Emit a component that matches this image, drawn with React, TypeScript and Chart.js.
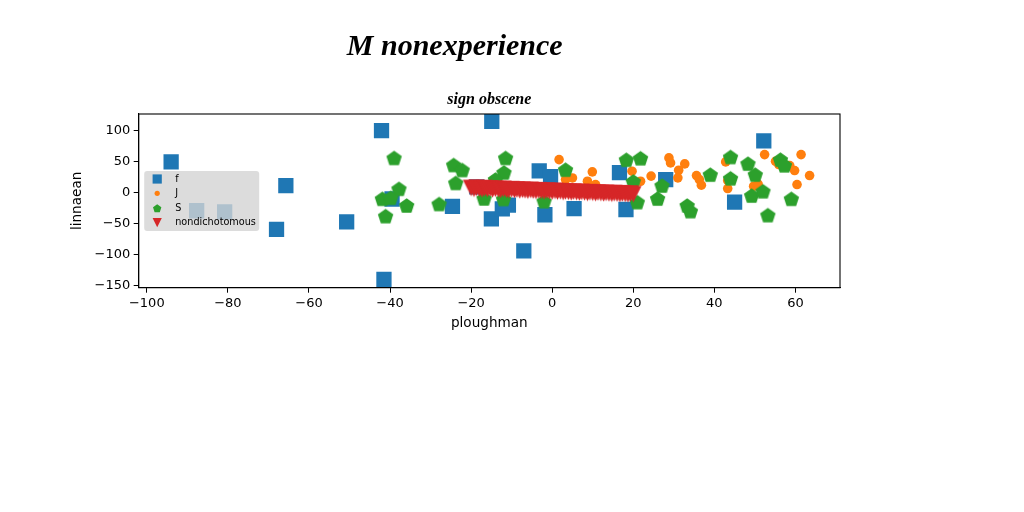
import { useEffect, useRef } from "react";
import { Chart, registerables } from "chart.js";

Chart.register(...registerables);

const TITLE = "M nonexperience";
const SUBTITLE = "sign obscene";
const X_LABEL = "ploughman";
const Y_LABEL = "linnaean";
const X_TICKS = [-100, -80, -60, -40, -20, 0, 20, 40, 60];
const Y_TICKS = [-150, -100, -50, 0, 50, 100];
const X_MIN = -102;
const X_MAX = 71;
const Y_MIN = -153.5;
const Y_MAX = 127.5;
const SERIES_NAMES = ["f", "J", "S", "nondichotomous"];

const F_X = [-94, -87.7, -80.8, -65.7, -68, -50.7, -42.1, -41.5, -39.5, -24.6, -14.9, -18.6, -15, -12.3, -10.8, -7, -3.2, -0.4, -1.8, 5.4, 16.6, 18.2, 28, 45, 52.2];
const F_Y = [50, -29, -31, 11.8, -59, -47, 100.5, -140, -10, -22, 115.6, 9.7, -42, -26, -20, -94, 35.5, 26, -35.5, -25.5, 32.5, -27, 21.5, -15, 84];

const J_X = [1.7, 3.3, 5, 8.7, 9.9, 10.7, 19.7, 21.8, 24.4, 28.8, 29.2, 32.7, 31.2, 31, 35.6, 36.3, 36.8, 42.8, 43.3, 43.3, 49.7, 50.8, 52.4, 55.1, 55.9, 56.7, 58.6, 59.8, 60.4, 61.4, 63.5];
const J_Y = [53.7, 21.5, 24, 18.7, 33.9, 13.4, 35, 18.7, 27, 56.5, 48.4, 46.8, 36.5, 24.2, 27.9, 21.5, 12.3, 50, 19.8, 6.9, 10.6, 14, 61.8, 51, 45.7, 48.4, 44, 36, 13.4, 61.8, 27.9];

const S_X = [-39, -37.8, -41.9, -39.8, -35.9, -41.1, -27.9, -24.3, -22.2, -23.8, -11.5, -11.9, -14, -16.8, -12, -2, 3.3, 18.3, 21.8, 20, 21, 27.1, 26, 33.3, 34.1, 39, 44, 44, 48.3, 50.1, 49.2, 52, 53.2, 56.3, 57.3, 59];
const S_Y = [56.5, 6.5, -9.7, -8, -20.5, -37.7, -18, 45, 37, 16, 56.5, 33, 21.5, -9, -10, -13.5, 37.5, 53.5, 56, 18.5, -15, 11.8, -9.2, -20.5, -29.6, 29.5, 58, 23.5, 47.3, 29.5, -4.4, 2.6, -36, 53.7, 44.5, -9.7];

const N_X = [-20.0, -19.3, -18.7, -18.0, -17.3, -16.7, -16.0, -15.3, -14.7, -14.0, -13.3, -12.7, -12.0, -11.3, -10.7, -10.0, -9.3, -8.7, -8.0, -7.3, -6.7, -6.0, -5.3, -4.7, -4.0, -3.3, -2.7, -2.0, -1.3, -0.7, 0.0, 0.7, 1.3, 2.0, 2.7, 3.3, 4.0, 4.7, 5.3, 6.0, 6.7, 7.3, 8.0, 8.7, 9.3, 10.0, 10.7, 11.3, 12.0, 12.7, 13.3, 14.0, 14.7, 15.3, 16.0, 16.7, 17.3, 18.0, 18.7, 19.3, 20.0];
const N_Y = [7.8, 6.4, 8.1, 6.9, 5.8, 7.6, 6.2, 7.0, 5.4, 6.6, 5.9, 4.8, 6.3, 5.1, 4.4, 5.8, 4.6, 5.3, 3.9, 5.0, 4.2, 3.4, 4.7, 3.6, 2.9, 4.1, 3.3, 2.4, 3.6, 2.8, 2.0, 3.1, 1.9, 2.6, 1.3, 2.3, 1.6, 0.8, 2.0, 1.1, 0.4, 1.5, 0.6, -0.2, 1.0, 0.1, -0.6, 0.5, -0.4, -1.1, 0.0, -0.9, -1.6, -0.5, -1.3, -2.0, -0.9, -1.8, -2.4, -1.4, -2.2];

const BLUE = "#1f77b4";
const ORANGE = "#ff7f0e";
const GREEN = "#2ca02c";
const RED = "#d62728";

function zip(xs: number[], ys: number[]) {
  return xs.map((x, i) => ({ x, y: ys[i] }));
}

function pentagonPath(ctx: CanvasRenderingContext2D, cx: number, cy: number, r: number) {
  ctx.beginPath();
  for (let k = 0; k < 5; k++) {
    const a = -Math.PI / 2 + (k * 2 * Math.PI) / 5;
    const px = cx + r * Math.cos(a);
    const py = cy + r * Math.sin(a);
    if (k === 0) ctx.moveTo(px, py);
    else ctx.lineTo(px, py);
  }
  ctx.closePath();
}

function downTrianglePath(ctx: CanvasRenderingContext2D, cx: number, cy: number, s: number) {
  ctx.beginPath();
  ctx.moveTo(cx - s / 2, cy - s / 2);
  ctx.lineTo(cx + s / 2, cy - s / 2);
  ctx.lineTo(cx, cy + s / 2);
  ctx.closePath();
}

function makePentagon(r: number, color: string) {
  const c = document.createElement("canvas");
  const d = Math.ceil(2 * r + 2);
  c.width = d;
  c.height = d;
  const ctx = c.getContext("2d")!;
  pentagonPath(ctx, d / 2, d / 2 + r * 0.1, r);
  ctx.fillStyle = color;
  ctx.fill();
  return c;
}

function makeTriangle(s: number, color: string) {
  const c = document.createElement("canvas");
  const d = Math.ceil(s + 2);
  c.width = d;
  c.height = d;
  const ctx = c.getContext("2d")!;
  downTrianglePath(ctx, d / 2, d / 2, s);
  ctx.fillStyle = color;
  ctx.fill();
  return c;
}

function fmt(v: number) {
  return v < 0 ? "\u2212" + Math.abs(v) : String(v);
}

const overlayPlugin = {
  id: "overlay",
  afterDatasetsDraw(chart: any) {
    const { ctx, chartArea } = chart;
    const { left, top, right, bottom } = chartArea;
    ctx.save();
    // frame
    ctx.strokeStyle = "#000";
    ctx.lineWidth = 1.1;
    ctx.strokeRect(left, top, right - left, bottom - top);

    // legend
    const lx = left + 5.5;
    const ly = top + 57;
    const lw = 115;
    const lh = 60;
    ctx.fillStyle = "rgba(211,211,211,0.8)";
    ctx.beginPath();
    (ctx as any).roundRect(lx, ly, lw, lh, 3);
    ctx.fill();
    const rows = [8, 22.3, 37.3, 51.7];
    const mx = lx + 13;
    const tx = lx + 31;
    ctx.fillStyle = BLUE;
    ctx.fillRect(mx - 4.6, ly + rows[0] - 4.6, 9.2, 9.2);
    ctx.fillStyle = ORANGE;
    ctx.beginPath();
    ctx.arc(mx, ly + rows[1], 2.6, 0, Math.PI * 2);
    ctx.fill();
    ctx.fillStyle = GREEN;
    pentagonPath(ctx, mx, ly + rows[2] + 0.4, 4.4);
    ctx.fill();
    ctx.fillStyle = RED;
    downTrianglePath(ctx, mx, ly + rows[3], 9.2);
    ctx.fill();
    ctx.fillStyle = "#000";
    ctx.font = "9.7px 'DejaVu Sans'";
    ctx.textAlign = "left";
    ctx.textBaseline = "middle";
    SERIES_NAMES.forEach((n, i) => ctx.fillText(n, tx, ly + rows[i]));

    // axis labels
    ctx.font = "13.6px 'DejaVu Sans'";
    ctx.textAlign = "center";
    ctx.textBaseline = "middle";
    ctx.fillText(X_LABEL, (left + right) / 2, bottom + 35.5);
    ctx.save();
    ctx.translate(left - 61.5, (top + bottom) / 2);
    ctx.rotate(-Math.PI / 2);
    ctx.fillText(Y_LABEL, 0, 0);
    ctx.restore();

    // titles
    ctx.font = "bold italic 30px 'Liberation Serif'";
    ctx.fillText(TITLE, left + 316, top - 67);
    ctx.font = "bold italic 16px 'Liberation Serif'";
    ctx.fillText(SUBTITLE, (left + right) / 2, top - 14);
    ctx.restore();
  },
};

export default function App() {
  const ref = useRef<HTMLCanvasElement | null>(null);
  useEffect(() => {
    const canvas = ref.current!;
    const pent = makePentagon(8.1, GREEN);
    const tri = makeTriangle(16.5, RED);
    const tickFont = { family: "'DejaVu Sans'", size: 13 };
    const chart = new Chart(canvas, {
      type: "scatter",
      data: {
        datasets: [
          { label: SERIES_NAMES[0], data: zip(F_X, F_Y), pointStyle: "rect", pointRadius: 10.8, backgroundColor: BLUE, borderColor: BLUE, borderWidth: 0, order: 4 },
          { label: SERIES_NAMES[1], data: zip(J_X, J_Y), pointStyle: "circle", pointRadius: 4.8, backgroundColor: ORANGE, borderColor: ORANGE, borderWidth: 0, order: 3 },
          { label: SERIES_NAMES[2], data: zip(S_X, S_Y), pointStyle: pent as any, pointRadius: 8, backgroundColor: GREEN, borderWidth: 0, order: 2 },
          { label: SERIES_NAMES[3], data: zip(N_X, N_Y), pointStyle: tri as any, pointRadius: 8, backgroundColor: RED, borderWidth: 0, order: 1 },
        ],
      },
      options: {
        animation: false,
        responsive: false,
        devicePixelRatio: 1,
        layout: { padding: { left: 60, right: 184, top: 114, bottom: 174.3 } },
        plugins: { legend: { display: false }, title: { display: false }, tooltip: { enabled: false } },
        scales: {
          x: {
            type: "linear",
            min: X_MIN,
            max: X_MAX,
            afterBuildTicks: (s: any) => {
              s.ticks = X_TICKS.map((v) => ({ value: v }));
            },
            afterFit: (s: any) => {
              s.height = 50;
            },
            grid: { display: true, drawOnChartArea: false, drawTicks: true, tickLength: 5, tickColor: "#000", color: "#000" },
            border: { display: true, color: "#000", width: 1.1 },
            ticks: { color: "#000", font: tickFont, padding: 3, maxRotation: 0, autoSkip: false, callback: (v: any) => fmt(Number(v)) },
          },
          y: {
            type: "linear",
            min: Y_MIN,
            max: Y_MAX,
            afterBuildTicks: (s: any) => {
              s.ticks = Y_TICKS.map((v) => ({ value: v }));
            },
            afterFit: (s: any) => {
              s.width = 78.7;
            },
            grid: { display: true, drawOnChartArea: false, drawTicks: true, tickLength: 5, tickColor: "#000", color: "#000" },
            border: { display: true, color: "#000", width: 1.1 },
            ticks: { color: "#000", font: tickFont, padding: 3.5, autoSkip: false, callback: (v: any) => fmt(Number(v)) },
          },
        },
      },
      plugins: [overlayPlugin],
    } as any);
    return () => chart.destroy();
  }, []);
  return (
    <div style={{ position: "fixed", left: 0, top: 0, width: 1024, height: 512, background: "#fff" }}>
      <canvas ref={ref} width={1024} height={512} style={{ display: "block", width: 1024, height: 512 }} />
    </div>
  );
}
